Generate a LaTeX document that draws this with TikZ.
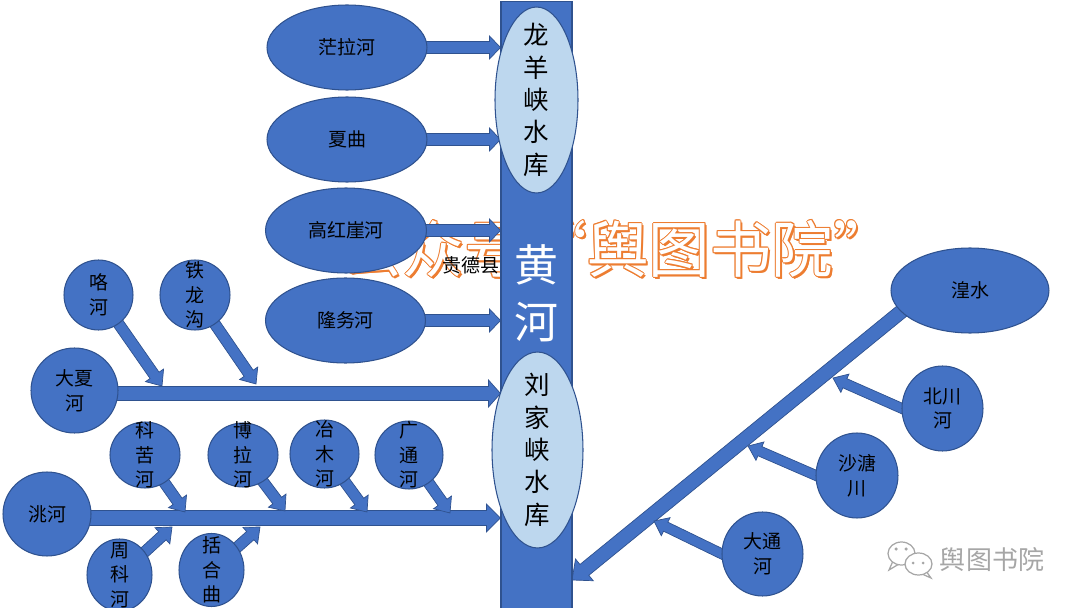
\documentclass[tikz,border=0pt]{standalone}
\usepackage{fontspec}
\setmainfont{Noto Sans CJK SC}
\usetikzlibrary{calc,shapes.geometric}
\pgfdeclarelayer{wm}
\pgfdeclarelayer{arr}
\pgfsetlayers{wm,arr,main}
\definecolor{fillblue}{HTML}{4472C4}
\definecolor{edgeblue}{HTML}{2F528F}
\definecolor{lightblue}{HTML}{BDD7EE}
\definecolor{wmorange}{HTML}{ED7D31}
\definecolor{wmgray}{HTML}{A6A6A6}
\tikzset{
  shapebase/.style={ellipse, draw=edgeblue, line width=0.6pt, inner sep=0pt, outer sep=0pt},
  river/.style={shapebase, fill=fillblue},
  reservoir/.style={shapebase, fill=lightblue},
  riverlab/.style={align=center, inner sep=0pt, text=black, font=\fontsize{10.8}{14}\selectfont},
  reslab/.style={align=center, inner sep=0pt, text=black, font=\fontsize{14.5}{18.4}\selectfont},
  mainriver/.style={rectangle, draw=edgeblue, fill=fillblue, line width=0.6pt, minimum width=1.42cm, minimum height=12.4cm, inner sep=0pt},
  arrowbody/.style={fill=fillblue, draw=edgeblue, line width=0.4pt, line join=miter},
  wmtext/.style={inner sep=0pt, font=\fontsize{35}{40}\selectfont},
}
% block arrow: start, end, half shaft, half head, head length
\newcommand\blkarrow[5]{%
  \coordinate (bs) at #1;
  \coordinate (be) at #2;
  \coordinate (bh) at ($(be)!#5!(bs)$);
  \draw[arrowbody] ($(bs)!#3!90:(be)$) -- ($(bh)!#3!-90:(bs)$) -- ($(bh)!#4!-90:(bs)$) -- (be)
    -- ($(bh)!#4!90:(bs)$) -- ($(bh)!#3!90:(bs)$) -- ($(bs)!#3!-90:(be)$) -- cycle;
}
\begin{document}
\begin{tikzpicture}[x=0.02cm,y=-0.02cm]
\useasboundingbox (0,0) rectangle (1080,608);

% watermark
\begin{pgfonlayer}{wm}
  \foreach \dx/\dy [count=\i] in {1/0,-1/0,0/1,0/-1,0.7/0.7,0.7/-0.7,-0.7/0.7,-0.7/-0.7,1.6/1.6,2.2/2.2}
    \node[wmtext,text=wmorange] (wmo\i) at ($(618,249)+(\dx,\dy)$) {公众号“舆图书院”};
  \node[wmtext,text=white] (wm) at (618,249) {公众号“舆图书院”};
\end{pgfonlayer}

% main river and reservoirs
\node[mainriver] (hh) at (536.5,311) {};
\node[font=\fontsize{25}{32.4}\selectfont, text=white, align=center, inner sep=0pt] (hhlab) at (536.5,293) {黄\\河};
\node[reservoir, minimum width=1.66cm, minimum height=3.72cm, label={[reslab]center:龙\\羊\\峡\\水\\库}] (lyx) at (536.5,100) {};
\node[reservoir, minimum width=1.82cm, minimum height=3.92cm, label={[reslab]center:刘\\家\\峡\\水\\库}] (ljx) at (537.5,450) {};

% upper tributaries
\node[river, minimum width=3.2cm, minimum height=1.7cm, label={[riverlab]center:茫拉河}] (mangla) at (347,47.5) {};
\node[river, minimum width=3.2cm, minimum height=1.7cm, label={[riverlab]center:夏曲}] (xiaqu) at (347,139.5) {};
\node[river, minimum width=3.22cm, minimum height=1.7cm, label={[riverlab]center:高红崖河}] (gaohong) at (346,230.5) {};
\node[river, minimum width=3.2cm, minimum height=1.7cm, label={[riverlab]center:隆务河}] (longwu) at (345.5,320.5) {};

% Daxia system
\node[river, minimum width=1.38cm, minimum height=1.4cm, label={[riverlab]center:咯\\河}] (gelu) at (98.5,295) {};
\node[river, minimum width=1.4cm, minimum height=1.4cm, label={[riverlab]center:铁\\龙\\沟}] (tielong) at (195,295) {};
\node[river, minimum width=1.74cm, minimum height=1.7cm, label={[riverlab]center:大夏\\河}] (daxia) at (74.5,390.5) {};

% Tao system
\node[river, minimum width=1.76cm, minimum height=1.68cm, label={[riverlab]center:洮河}] (tao) at (47,514) {};
\node[river, minimum width=1.4cm, minimum height=1.32cm, label={[riverlab]center:科\\苦\\河}] (kuku) at (145,455) {};
\node[river, minimum width=1.4cm, minimum height=1.28cm, label={[riverlab]center:博\\拉\\河}] (bola) at (243,455) {};
\node[river, minimum width=1.38cm, minimum height=1.36cm, label={[riverlab]center:冶\\木\\河}] (yemu) at (324.5,454) {};
\node[river, minimum width=1.36cm, minimum height=1.36cm, label={[riverlab]center:广\\通\\河}] (guangtong) at (409,455) {};
\node[river, minimum width=1.3cm, minimum height=1.44cm, label={[riverlab]center:周\\科\\河}] (zhouke) at (119.5,575) {};
\node[river, minimum width=1.3cm, minimum height=1.46cm, label={[riverlab]center:括\\合\\曲}] (kuohe) at (211.5,570) {};

% Huangshui system
\node[river, minimum width=3.16cm, minimum height=1.7cm, label={[riverlab]center:湟水}] (huangshui) at (970,290.5) {};
\node[river, minimum width=1.62cm, minimum height=1.7cm, label={[riverlab]center:北川\\河}] (beichuan) at (942.5,408.5) {};
\node[river, minimum width=1.64cm, minimum height=1.7cm, label={[riverlab]center:沙溏\\川}] (shatang) at (857,475.5) {};
\node[river, minimum width=1.62cm, minimum height=1.68cm, label={[riverlab]center:大通\\河}] (datong) at (762.5,554) {};

% free arrow ends
\coordinate (gelutip) at (162,386);
\coordinate (tielongtip) at (256,384);
\coordinate (kukutip) at (185,512);
\coordinate (bolatip) at (285,511);
\coordinate (yemutip) at (367,512);
\coordinate (guangtongtip) at (450,513);
\coordinate (zhouketip) at (172,527);
\coordinate (kuohetip) at (260,527);
\coordinate (hstip) at (572,580);
\coordinate (bctip) at (833,378);
\coordinate (sttip) at (748,446);
\coordinate (dttip) at (654,521);

\begin{pgfonlayer}{arr}
  \blkarrow{(mangla.center)}{(hh.west |- mangla.center)}{0.12cm}{0.23cm}{0.22cm}
  \blkarrow{(xiaqu.center)}{(hh.west |- xiaqu.center)}{0.12cm}{0.23cm}{0.22cm}
  \blkarrow{(gaohong.center)}{(hh.west |- gaohong.center)}{0.12cm}{0.23cm}{0.22cm}
  \blkarrow{(longwu.center)}{(hh.west |- longwu.center)}{0.12cm}{0.23cm}{0.22cm}
  \blkarrow{($(daxia.center)+(0,3)$)}{($(hh.west |- daxia.center)+(0,3)$)}{0.14cm}{0.27cm}{0.24cm}
  \blkarrow{($(tao.center)+(0,4)$)}{($(hh.west |- tao.center)+(0,4)$)}{0.15cm}{0.28cm}{0.28cm}
  \blkarrow{($(huangshui.197)!-0.3cm!(hstip)$)}{(hstip)}{0.14cm}{0.28cm}{0.32cm}
  \blkarrow{(gelu.center)}{(gelutip)}{0.11cm}{0.22cm}{0.26cm}
  \blkarrow{(tielong.center)}{(tielongtip)}{0.11cm}{0.22cm}{0.26cm}
  \blkarrow{(kuku.center)}{(kukutip)}{0.11cm}{0.22cm}{0.26cm}
  \blkarrow{(bola.center)}{(bolatip)}{0.11cm}{0.22cm}{0.26cm}
  \blkarrow{(yemu.center)}{(yemutip)}{0.11cm}{0.22cm}{0.26cm}
  \blkarrow{(guangtong.center)}{(guangtongtip)}{0.11cm}{0.22cm}{0.26cm}
  \blkarrow{(zhouke.center)}{(zhouketip)}{0.11cm}{0.22cm}{0.26cm}
  \blkarrow{(kuohe.center)}{(kuohetip)}{0.11cm}{0.22cm}{0.26cm}
  \blkarrow{($(beichuan.180)!-0.3cm!(bctip)$)}{(bctip)}{0.1cm}{0.2cm}{0.26cm}
  \blkarrow{($(shatang.180)!-0.3cm!(sttip)$)}{(sttip)}{0.1cm}{0.2cm}{0.26cm}
  \blkarrow{($(datong.180)!-0.3cm!(dttip)$)}{(dttip)}{0.1cm}{0.2cm}{0.26cm}
\end{pgfonlayer}

\node[riverlab] (guide) at (471,265) {贵德县};

% WeChat watermark
\draw[wmgray, fill=white, line width=0.7pt] (893,561) -- (889,570) -- (899,564);
\draw[wmgray, fill=white, line width=0.7pt] (901.5,553.5) ellipse [x radius=0.27cm, y radius=0.23cm];
\fill[wmgray] (896,549) circle [radius=0.035cm] (906,549) circle [radius=0.035cm];
\draw[wmgray, fill=white, line width=0.7pt] (926,571) -- (931,578) -- (922,574);
\draw[wmgray, fill=white, line width=0.7pt] (918.5,564) ellipse [x radius=0.27cm, y radius=0.22cm];
\fill[wmgray] (913,563) circle [radius=0.03cm] (923,563) circle [radius=0.03cm];
\node[inner sep=0pt, text=wmgray, font=\fontsize{14.8}{16}\selectfont] (wxtext) at (992,560) {舆图书院};
\end{tikzpicture}
\end{document}
